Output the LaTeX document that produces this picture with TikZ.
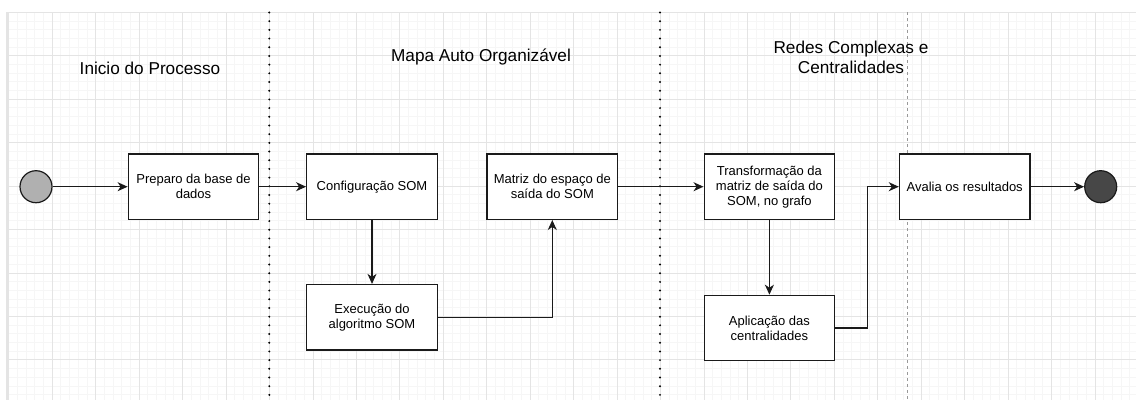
\documentclass[tikz,border=0pt]{standalone}
\usepackage{fontspec}
\setmainfont{Liberation Sans}
\usetikzlibrary{arrows.meta}
\definecolor{gridminor}{HTML}{F6F6F6}
\definecolor{gridmajor}{HTML}{E4E4E4}
\definecolor{startfill}{HTML}{B0B0B0}
\definecolor{endfill}{HTML}{474747}
\definecolor{ink}{HTML}{1A1A1A}
\tikzset{
  boxnode/.style={draw=ink, line width=1.3pt, fill=white, minimum width=130.5pt, minimum height=65.3pt, inner sep=0pt, align=center, font=\fontsize{13pt}{15pt}\selectfont},
  circnode/.style={draw=ink, line width=1.2pt, circle, minimum size=32pt, inner sep=0pt},
  titlenode/.style={align=center, font=\fontsize{17.2pt}{20pt}\selectfont},
  arr/.style={draw=ink, line width=1.2pt, -{Stealth[length=10pt,width=9pt,inset=3pt]}},
  lanedots/.style={black, line width=2.2pt, dash pattern=on 0pt off 8.69pt, line cap=round},
  lanedash/.style={color=black!40, line width=1pt, dash pattern=on 3pt off 3pt},
}
\begin{document}
\begin{tikzpicture}[x=1pt,y=-1pt]
\useasboundingbox (0,0) rectangle (1136,400);
\fill[white] (0,0) rectangle (1136,400);
% grid
\foreach \i in {0,...,130} {\draw[gridminor, line width=0.9pt] ({8.8+8.69*\i},12.3) -- ({8.8+8.69*\i},400);}
\foreach \j in {0,...,44} {\draw[gridminor, line width=0.9pt] (8.8,{12.3+8.69*\j}) -- (1136,{12.3+8.69*\j});}
\foreach \i in {0,...,26} {\draw[gridmajor, line width=0.9pt] ({8.8+43.45*\i},12.3) -- ({8.8+43.45*\i},400);}
\foreach \j in {0,...,8} {\draw[gridmajor, line width=0.9pt] (8.8,{12.3+43.45*\j}) -- (1136,{12.3+43.45*\j});}
\draw[gridmajor, line width=2.5pt] (7,12.3) -- (7,400);
% lane separators
\draw[lanedots] (269.3,12.5) -- (269.3,400);
\draw[lanedots] (660,12.5) -- (660,400);
\draw[lanedash] (907,12.3) -- (907,400);
% titles
\node[titlenode] (t1) at (150,68) {Inicio do Processo};
\node[titlenode] (t2) at (481,56.5) {Mapa Auto Organizável};
\node[titlenode] (t3) at (851,57) {Redes Complexas e\\Centralidades};
% nodes
\node[circnode, fill=startfill] (start) at (36,186.7) {};
\node[boxnode] (box1) at (193.5,186.7) {Preparo da base de\\dados};
\node[boxnode] (config) at (372,186.7) {Configuração SOM};
\node[boxnode] (exec) at (372,317.2) {Execução do\\algoritmo SOM};
\node[boxnode] (matriz) at (552.3,186.7) {Matriz do espaço de\\saída do SOM};
\node[boxnode] (transf) at (769.4,186.7) {Transformação da\\matriz de saída do\\SOM, no grafo};
\node[boxnode] (aplic) at (769.4,328) {Aplicação das\\centralidades};
\node[boxnode] (avalia) at (964.7,186.7) {Avalia os resultados};
\node[circnode, fill=endfill] (end) at (1100.7,186.7) {};
\coordinate (bend) at (867.3,328);
% connectors
\draw[arr] (start) -- (box1);
\draw[arr] (box1) -- (config);
\draw[arr] (config) -- (exec);
\draw[arr] (exec.east) -| (matriz.south);
\draw[arr] (matriz) -- (transf);
\draw[arr] (transf) -- (aplic);
\draw[arr] (aplic.east) -- (bend) |- (avalia.west);
\draw[arr] (avalia) -- (end);
\end{tikzpicture}
\end{document}
